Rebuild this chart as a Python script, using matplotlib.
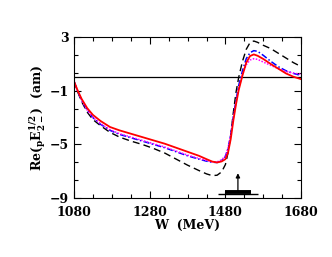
'''
Re(pE2-^{1/2}) multipole vs W, four model curves
'''

from matplotlib import pyplot as plt

# W values (MeV) and the curves
w = [1080, 1090, 1100, 1115, 1130, 1150, 1175, 1200, 1230, 1260, 1290, 1320,
     1350, 1380, 1410, 1430, 1445, 1458, 1470, 1480, 1487, 1494, 1501, 1508,
     1515, 1525, 1535, 1545, 1555, 1565, 1580, 1600, 1620, 1640, 1660, 1680]

red = [-0.3, -1.0, -1.6, -2.3, -2.8, -3.25, -3.7, -3.95, -4.2, -4.45, -4.7, -4.95,
       -5.25, -5.55, -5.85, -6.1, -6.28, -6.35, -6.27, -6.1, -5.6, -4.6, -3.2, -2.0,
       -0.95, 0.15, 1.1, 1.6, 1.72, 1.62, 1.38, 1.0, 0.65, 0.3, 0.05, -0.13]

blue = [-0.3, -1.05, -1.7, -2.45, -3.0, -3.5, -3.95, -4.25, -4.5, -4.75, -5.0, -5.25,
        -5.55, -5.85, -6.1, -6.25, -6.33, -6.35, -6.2, -5.9, -5.3, -4.3, -2.9, -1.7,
        -0.6, 0.5, 1.4, 1.85, 2.0, 1.95, 1.65, 1.2, 0.8, 0.5, 0.3, 0.14]

magenta = [-0.3, -1.05, -1.7, -2.45, -3.0, -3.45, -3.9, -4.2, -4.45, -4.7, -4.95, -5.2,
           -5.5, -5.8, -6.05, -6.2, -6.3, -6.3, -6.15, -5.85, -5.25, -4.3, -3.0, -1.85,
           -0.8, 0.2, 0.95, 1.3, 1.4, 1.35, 1.15, 0.9, 0.65, 0.45, 0.32, 0.24]

black = [-0.3, -1.1, -1.8, -2.6, -3.15, -3.6, -4.1, -4.45, -4.75, -5.0, -5.3, -5.65,
         -6.1, -6.55, -6.95, -7.2, -7.33, -7.3, -7.05, -6.5, -5.6, -4.3, -2.6, -1.1,
         0.0, 1.2, 2.1, 2.6, 2.72, 2.62, 2.4, 2.15, 1.8, 1.45, 1.1, 0.81]

x_ticks = [1080, 1280, 1480, 1680]
y_ticks = [3, -1, -5, -9]
y_tick_labels = ['3', '\u22121', '\u22125', '\u22129']

# resonance marker: arrow position and the two bars under it
arrow_w = 1513
arrow_y = (-8.5, -7.15)
thick_bar = (1479, 1547, -8.52)
thin_bar = (1460, 1567, -8.67)

plt.rcParams['font.family'] = 'DejaVu Serif'
plt.rcParams['font.weight'] = 'bold'
plt.rcParams['mathtext.fontset'] = 'dejavuserif'
plt.rcParams['mathtext.default'] = 'bf'

fig = plt.figure(figsize=(3.32, 2.57), dpi=100)
ax = fig.add_axes([0.223, 0.2296, 0.684, 0.6254])

ax.axhline(0, color='black', lw=0.9)
ax.plot(w, black, color='black', lw=1.0, ls=(0, (5, 3)))
ax.plot(w, blue, color='blue', lw=1.1, ls=(0, (4, 1.5, 1, 1.5)))
ax.plot(w, magenta, color='magenta', lw=1.1, ls=(0, (1, 1)))
ax.plot(w, red, color='red', lw=1.3)

# marker under the curves
ax.hlines(thick_bar[2], thick_bar[0], thick_bar[1], color='black', lw=2.8)
ax.hlines(thin_bar[2], thin_bar[0], thin_bar[1], color='black', lw=1.0)
ax.annotate('', xy=(arrow_w, arrow_y[1]), xytext=(arrow_w, arrow_y[0]),
            arrowprops=dict(arrowstyle='-|>', color='black', lw=0.9,
                            mutation_scale=6, shrinkA=0, shrinkB=0))

ax.set_xlim(1080, 1680)
ax.set_ylim(-9, 3)
ax.set_xticks(x_ticks)
ax.set_xticks(range(1080, 1681, 50), minor=True)
ax.set_yticks(y_ticks)
ax.set_yticklabels(y_tick_labels)
ax.set_yticks([3 - 4 / 3 * k for k in range(10)], minor=True)
ax.tick_params(which='both', direction='in', top=True, right=True, labelsize=9)
ax.tick_params(which='major', length=5, width=0.8)
ax.tick_params(which='minor', length=3, width=0.8)
ax.tick_params(axis='x', which='major', pad=6)
ax.tick_params(axis='y', which='major', pad=4)

ax.set_xlabel('W  (MeV)', fontsize=9, fontweight='bold', labelpad=0)
ax.set_ylabel(r'Re(${}_{p}$E$_{2-}^{1/2}$)  (am)', fontsize=9,
              fontweight='bold', labelpad=1)

fig.savefig('out.png', dpi=100)
